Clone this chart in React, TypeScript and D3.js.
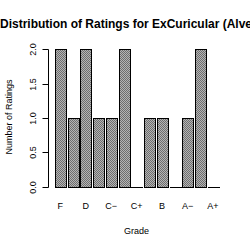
import React, { useEffect, useRef } from "react";
import * as d3 from "d3";

const grades = ["F", "D−", "D", "D+", "C−", "C", "C+", "B−", "B", "B+", "A−", "A", "A+"];
const counts = [2, 1, 2, 1, 1, 2, 0, 1, 1, 0, 1, 2, 0];
const yTicks = [0, 0.5, 1, 1.5, 2];
// R drops every other label when they would overlap
const shownLabels = ["F", "D", "C−", "C+", "B", "A−", "A+"];

export default function App() {
  const chartRef = useRef<SVGSVGElement>(null);

  useEffect(() => {
    const svg = d3.select(chartRef.current);
    svg.selectAll("*").remove();

    const width = 250;
    const height = 250;
    const font = "'Liberation Sans', Arial, sans-serif";

    const xScale = d3
      .scaleBand()
      .domain(grades)
      .range([55, 218.3])
      .paddingInner(1 / 6)
      .paddingOuter(0);

    const yScale = d3.scaleLinear().domain([0, 2]).range([186.7, 49.3]);

    // checkered grey fill like the R bitmap device
    const pat = svg
      .append("defs")
      .append("pattern")
      .attr("id", "hatch")
      .attr("patternUnits", "userSpaceOnUse")
      .attr("width", 2)
      .attr("height", 2);
    pat.append("rect").attr("width", 2).attr("height", 2).attr("fill", "#b4b4b4");
    pat.append("rect").attr("width", 1).attr("height", 1).attr("fill", "#6e6e6e");
    pat.append("rect").attr("x", 1).attr("y", 1).attr("width", 1).attr("height", 1).attr("fill", "#6e6e6e");

    svg.append("rect").attr("width", width).attr("height", height).attr("fill", "#fff");

    const base = Math.round(yScale(0)) + 0.5;
    const bw = Math.round(xScale.bandwidth());

    grades.forEach((g, i) => {
      const x = Math.round(xScale(g)!) + 0.5;
      const v = counts[i];
      if (v > 0) {
        svg
          .append("rect")
          .attr("x", x)
          .attr("y", Math.round(yScale(v)) + 0.5)
          .attr("width", bw)
          .attr("height", Math.round(yScale(0)) - Math.round(yScale(v)))
          .attr("fill", "url(#hatch)")
          .attr("stroke", "#000");
      } else {
        // zero-height bar shows up as a flat line
        svg
          .append("line")
          .attr("x1", x - 0.5)
          .attr("x2", x + bw + 0.5)
          .attr("y1", base)
          .attr("y2", base)
          .attr("stroke", "#000");
      }
    });

    // y axis, R style
    const axisX = 48.5;
    const yAxis = svg.append("g");
    yAxis
      .append("line")
      .attr("x1", axisX)
      .attr("x2", axisX)
      .attr("y1", Math.round(yScale(0)) + 0.5)
      .attr("y2", Math.round(yScale(2)) + 0.5)
      .attr("stroke", "#000");
    yTicks.forEach((t) => {
      const y = Math.round(yScale(t)) + 0.5;
      yAxis
        .append("line")
        .attr("x1", axisX - 6)
        .attr("x2", axisX)
        .attr("y1", y)
        .attr("y2", y)
        .attr("stroke", "#000");
      yAxis
        .append("text")
        .attr("transform", `translate(35.5,${y}) rotate(-90)`)
        .attr("text-anchor", "middle")
        .attr("font-family", font)
        .attr("font-size", 9)
        .text(d3.format(".1f")(t));
    });

    svg
      .selectAll("text.xlab")
      .data(shownLabels)
      .enter()
      .append("text")
      .attr("class", "xlab")
      .attr("x", (d) => xScale(d)! + xScale.bandwidth() / 2)
      .attr("y", 208.5)
      .attr("text-anchor", "middle")
      .attr("font-family", font)
      .attr("font-size", 9)
      .attr("fill", "#000")
      .text((d) => d);

    svg
      .append("text")
      .attr("x", 136.5)
      .attr("y", 234)
      .attr("text-anchor", "middle")
      .attr("font-family", font)
      .attr("font-size", 9)
      .text("Grade");

    svg
      .append("text")
      .attr("transform", `translate(11.5,117) rotate(-90)`)
      .attr("text-anchor", "middle")
      .attr("font-family", font)
      .attr("font-size", 9)
      .text("Number of Ratings");

    // title runs off the right edge in the original too
    svg
      .append("text")
      .attr("x", 0)
      .attr("y", 28)
      .attr("font-family", font)
      .attr("font-size", 12)
      .attr("font-weight", "bold")
      .text("Distribution of Ratings for ExCuricular (Alverno)");
  }, []);

  return (
    <svg
      ref={chartRef}
      width={250}
      height={250}
      style={{ position: "absolute", left: 0, top: 0 }}
    />
  );
}
